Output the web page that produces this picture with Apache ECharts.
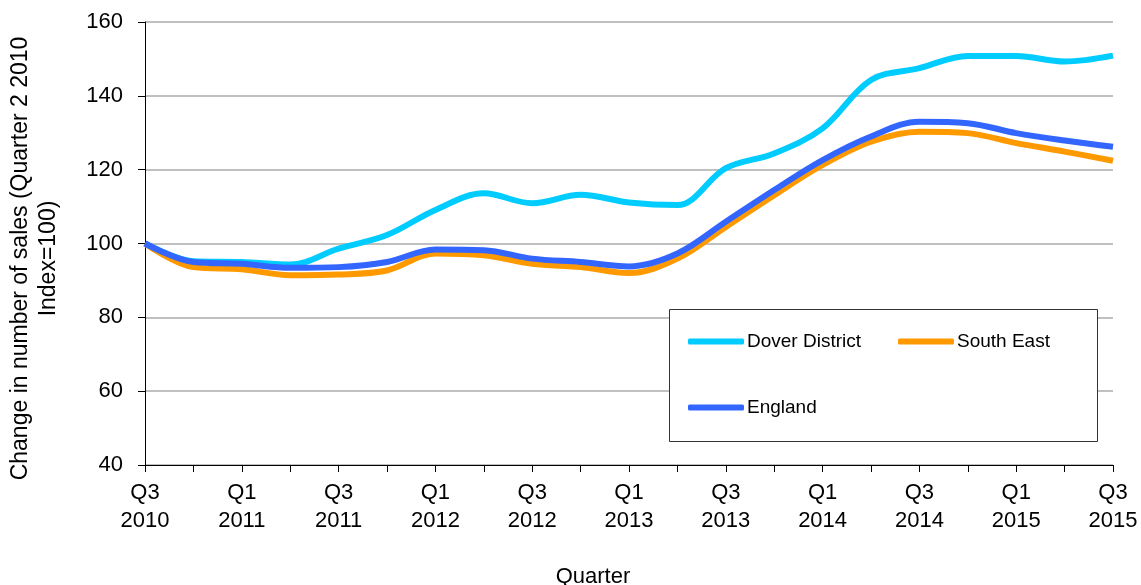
<!DOCTYPE html>
<html>
<head>
<meta charset="utf-8">
<script src="https://cdn.jsdelivr.net/npm/echarts@6/dist/echarts.min.js"></script>
<style>
  html, body { margin: 0; padding: 0; background: #fff; }
  #main { width: 1141px; height: 585px; }
</style>
</head>
<body>
<div id="main"></div>
<script>
var quarters = [
  'Q3\n2010', 'Q4\n2010', 'Q1\n2011', 'Q2\n2011', 'Q3\n2011', 'Q4\n2011',
  'Q1\n2012', 'Q2\n2012', 'Q3\n2012', 'Q4\n2012', 'Q1\n2013', 'Q2\n2013',
  'Q3\n2013', 'Q4\n2013', 'Q1\n2014', 'Q2\n2014', 'Q3\n2014', 'Q4\n2014',
  'Q1\n2015', 'Q2\n2015', 'Q3\n2015'
];
var dover = [100, 95.2, 95, 94.3, 98.6, 102.3, 109.1, 113.6, 110.9, 113.2, 111.1, 110.4,
  120.4, 124.4, 131.2, 144.3, 147.5, 150.8, 150.8, 149.3, 150.9];
var southEast = [100, 93.6, 93, 91.4, 91.6, 92.7, 97.3, 96.8, 94.5, 93.6, 92.0, 95.9,
  104.5, 113.1, 121.3, 127.6, 130.3, 129.9, 127.2, 124.9, 122.4];
var england = [100, 95, 94.5, 93.4, 93.6, 95, 98.4, 98.2, 95.9, 95, 93.8, 97.3,
  105.9, 114.5, 122.6, 129, 133, 132.6, 129.9, 127.9, 126.2];

var FONT = 'Liberation Sans, Arial, sans-serif';
var chartDom = document.getElementById('main');
var myChart = echarts.init(chartDom);

function lineSeries(name, data, color) {
  return {
    name: name,
    type: 'line',
    data: data,
    smooth: 0.35,
    showSymbol: false,
    symbol: 'none',
    lineStyle: { color: color, width: 6 },
    itemStyle: { color: color },
    animation: false
  };
}

var legendCommon = {
  icon: 'roundRect',
  itemWidth: 56,
  itemHeight: 6,
  itemGap: 37,
  padding: 0,
  textStyle: { fontFamily: FONT, fontSize: 19, color: '#000', padding: [0, 0, 0, -2] }
};

var option = {
  animation: false,
  grid: { left: 145, right: 28, top: 22, bottom: 120, outerBoundsMode: 'none', containLabel: false },
  graphic: [{
    type: 'rect',
    left: 669, top: 309,
    shape: { width: 428, height: 132 },
    style: { fill: '#fff', stroke: '#333', lineWidth: 1 },
    z: 5
  }],
  legend: [
    Object.assign({ data: ['Dover District', 'South East'], left: 688, top: 332, z: 10 }, legendCommon),
    Object.assign({ data: ['England'], left: 688, top: 398, z: 10 }, legendCommon)
  ],
  xAxis: {
    type: 'category',
    data: quarters,
    boundaryGap: false,
    name: 'Quarter',
    nameLocation: 'middle',
    nameGap: 101,
    nameTextStyle: { fontFamily: FONT, fontSize: 22, color: '#000', padding: [0, 72, 0, 0] },
    axisLine: { lineStyle: { color: '#000', width: 1 } },
    axisTick: { show: true, interval: 0, length: 7, lineStyle: { color: '#000' } },
    axisLabel: {
      interval: 1,
      fontFamily: FONT, fontSize: 22, color: '#000',
      lineHeight: 28, margin: 14
    },
    splitLine: { show: false }
  },
  yAxis: {
    type: 'value',
    min: 40, max: 160, interval: 20,
    name: 'Change in number of sales (Quarter 2 2010\nIndex=100)',
    nameLocation: 'middle',
    nameGap: 82,
    nameTextStyle: {
      fontFamily: FONT, fontSize: 23, color: '#000', lineHeight: 28, align: 'center',
      padding: [0, 30, 0, 0]
    },
    axisLine: { show: true, lineStyle: { color: '#000', width: 1 } },
    axisTick: { show: true, length: 7, lineStyle: { color: '#000' } },
    axisLabel: { fontFamily: FONT, fontSize: 22, color: '#000', margin: 22 },
    splitLine: { show: true, lineStyle: { color: '#c0c0c0', width: 2 } }
  },
  series: [
    lineSeries('Dover District', dover, '#00ccff'),
    lineSeries('South East', southEast, '#ff9900'),
    lineSeries('England', england, '#3366ff')
  ]
};

myChart.setOption(option);
</script>
</body>
</html>
